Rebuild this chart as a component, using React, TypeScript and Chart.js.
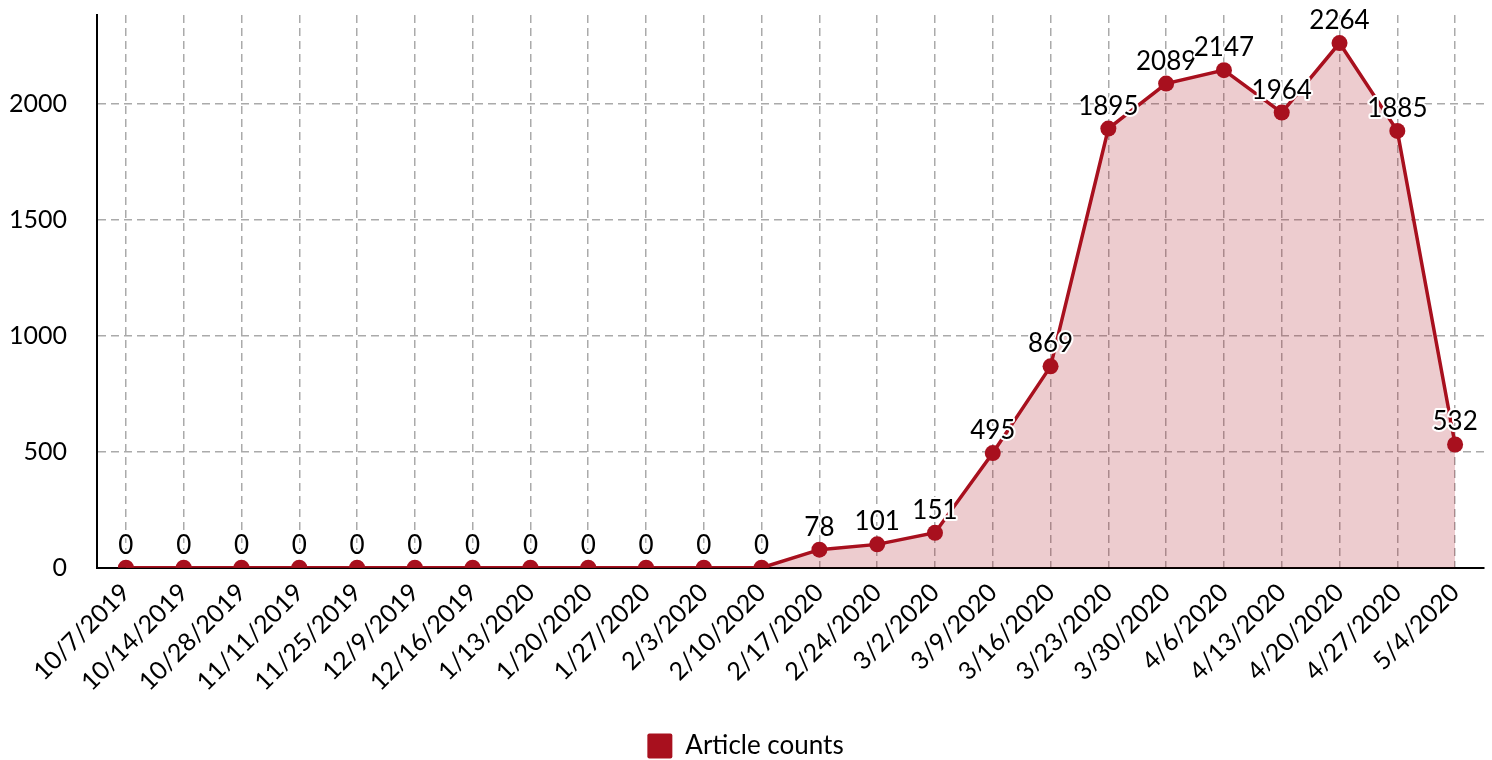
import React, { useEffect, useRef } from "react";
import { Chart, registerables } from "chart.js";

Chart.register(...registerables);

const categories = [
  "10/7/2019", "10/14/2019", "10/28/2019", "11/11/2019", "11/25/2019", "12/9/2019",
  "12/16/2019", "1/13/2020", "1/20/2020", "1/27/2020", "2/3/2020", "2/10/2020",
  "2/17/2020", "2/24/2020", "3/2/2020", "3/9/2020", "3/16/2020", "3/23/2020",
  "3/30/2020", "4/6/2020", "4/13/2020", "4/20/2020", "4/27/2020", "5/4/2020",
];
const articleCounts = [0, 0, 0, 0, 0, 0, 0, 0, 0, 0, 0, 0, 78, 101, 151, 495, 869, 1895, 2089, 2147, 1964, 2264, 1885, 532];
const seriesName = "Article counts";
const yTicks = [0, 500, 1000, 1500, 2000];

const LINE = "#a8101e";
const FILL = "rgba(168,16,30,0.21)";
const FONT = "Lato, 'Noto Sans', sans-serif";

const labelPlugin = {
  id: "pointLabels",
  afterLayout(chart: any) {
    if (chart.legend) {
      chart.legend.top += 9;
      chart.legend.bottom += 9;
    }
  },
  afterDatasetsDraw(chart: any) {
    const ctx = chart.ctx;
    const meta = chart.getDatasetMeta(0);
    ctx.save();
    ctx.font = `26px ${FONT}`;
    ctx.textAlign = "center";
    ctx.textBaseline = "alphabetic";
    ctx.lineJoin = "round";
    meta.data.forEach((pt: any, i: number) => {
      const txt = String(articleCounts[i]);
      const x = pt.x;
      const y = pt.y - 14;
      ctx.strokeStyle = "#ffffff";
      ctx.lineWidth = 4;
      ctx.strokeText(txt, x, y);
      ctx.fillStyle = "#000000";
      ctx.fillText(txt, x, y);
    });
    ctx.restore();
  },
};

export default function App() {
  const ref = useRef<HTMLCanvasElement | null>(null);
  useEffect(() => {
    if (!ref.current) return;
    const chart = new Chart(ref.current, {
      type: "line",
      data: {
        labels: categories,
        datasets: [
          {
            label: seriesName,
            data: articleCounts,
            borderColor: LINE,
            backgroundColor: FILL,
            fill: "origin",
            borderWidth: 3.5,
            pointRadius: 8,
            pointHoverRadius: 8,
            pointBackgroundColor: LINE,
            pointBorderColor: LINE,
            pointBorderWidth: 0,
            tension: 0,
          },
        ],
      },
      options: {
        responsive: false,
        animation: false,
        layout: { padding: { top: 0, right: 8, left: 7, bottom: 0 } },
        plugins: {
          tooltip: { enabled: false },
          legend: {
            position: "bottom",
            labels: {
              font: { family: FONT, size: 26 },
              color: "#000",
              boxWidth: 25,
              boxHeight: 25,
              padding: 3,
              generateLabels: () => [
                {
                  text: seriesName,
                  fillStyle: LINE,
                  strokeStyle: LINE,
                  lineWidth: 0,
                  hidden: false,
                  datasetIndex: 0,
                  borderRadius: 2,
                } as any,
              ],
            },
          },
        },
        scales: {
          x: {
            offset: true,
            afterFit: (scale: any) => {
              scale.paddingLeft = 0;
              scale.paddingRight = 0;
              scale.height += 14;
            },
            grid: {
              offset: false,
              color: "#aaaaaa",
              lineWidth: 1.5,
              drawTicks: false,
            },
            border: { color: "#000", width: 2, dash: [8, 5] as any },
            ticks: {
              font: { family: FONT, size: 25 },
              color: "#000",
              minRotation: 45,
              maxRotation: 45,
              autoSkip: false,
              padding: 10,
            },
          },
          y: {
            min: 0,
            max: 2385,
            afterBuildTicks: (scale: any) => {
              scale.ticks = yTicks.map((v) => ({ value: v }));
            },
            afterFit: (scale: any) => {
              scale.paddingTop = 15;
              scale.paddingBottom = 0;
            },
            grid: {
              color: "#aaaaaa",
              lineWidth: 1.5,
              drawTicks: true,
              tickLength: 28,
              tickColor: "rgba(0,0,0,0)",
            },
            border: { color: "#000", width: 2, dash: [8, 5] as any },
            ticks: {
              font: { family: FONT, size: 25 },
              color: "#000",
              padding: 2,
              callback: (v: any) => String(v),
            },
          },
        },
      },
      plugins: [labelPlugin],
    });
    return () => chart.destroy();
  }, []);
  return (
    <div style={{ position: "fixed", left: 0, top: 0, width: 1492, height: 760, background: "#fff" }}>
      <canvas ref={ref} width={1492} height={760} style={{ display: "block" }} />
    </div>
  );
}
